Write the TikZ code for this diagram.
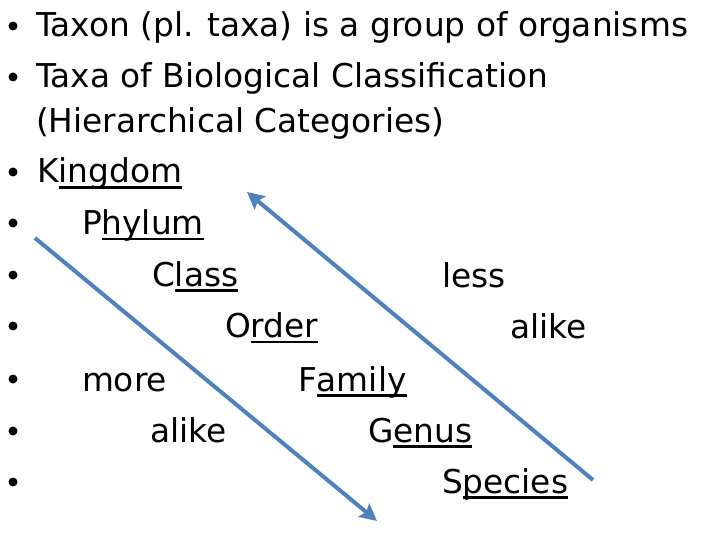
\documentclass[tikz,border=0pt]{standalone}
\usepackage{fontspec}
\setmainfont{DejaVu Sans}
\usetikzlibrary{arrows.meta}
\definecolor{arrblue}{RGB}{79,129,189}
\begin{document}
\begin{tikzpicture}[x=1pt,y=-1pt,
  txt/.style={anchor=base west,inner sep=0pt,outer sep=0pt,font=\fontsize{32.8}{38}\selectfont},
  bul/.style={circle,fill=black,inner sep=0pt,minimum size=9pt},
  ul/.style={line width=2.5pt},
  arr/.style={draw=arrblue,line width=4pt,-{Stealth[length=17pt,width=17pt,inset=3pt]}}]
\fill[white] (0,0) rectangle (720,540);
\useasboundingbox (0,0) rectangle (720,540);
% bullets
\foreach \n/\y in {1/26,2/77,4/172,5/223,6/275,7/326,8/379,9/431,10/482}
  \node[bul] (b\n) at (13,\y) {};
% header lines
\node[txt] (t1) at (36,37) {Taxon (pl. taxa) is a group of organisms};
\node[txt] (t2) at (36,88) {Taxa of Biological Classification};
\node[txt] (t3) at (36,133) {(Hierarchical Categories)};
% ranks: first letter + underlined remainder
\node[txt] (kA) at (37,183) {K};
\node[txt] (kB) at (kA.base east) {ingdom};
\node[txt] (pA) at (82,234.5) {P};
\node[txt] (pB) at (pA.base east) {hylum};
\node[txt] (cA) at (152,286) {C};
\node[txt] (cB) at (cA.base east) {lass};
\node[txt] (oA) at (225,337.5) {O};
\node[txt] (oB) at (oA.base east) {rder};
\node[txt] (fA) at (298,391) {F};
\node[txt] (fB) at (fA.base east) {amily};
\node[txt] (gA) at (368,442) {G};
\node[txt] (gB) at (gA.base east) {enus};
\node[txt] (sA) at (442,493) {S};
\node[txt] (sB) at (sA.base east) {pecies};
\foreach \w in {kB,pB,cB,oB,fB,gB,sB}
  \draw[ul] ([yshift=-4.5pt]\w.base west) -- ([yshift=-4.5pt]\w.base east);
% side labels
\node[txt] (less) at (442,287) {less};
\node[txt] (alikeR) at (510,338) {alike};
\node[txt] (more) at (82,391) {more};
\node[txt] (alikeL) at (150,442) {alike};
% arrows
\coordinate (d1) at (35,238);
\coordinate (d2) at (377,521);
\coordinate (u1) at (593,480);
\coordinate (u2) at (247,192);
\draw[arr] (d1) -- (d2);
\draw[arr] (u1) -- (u2);
\end{tikzpicture}
\end{document}
